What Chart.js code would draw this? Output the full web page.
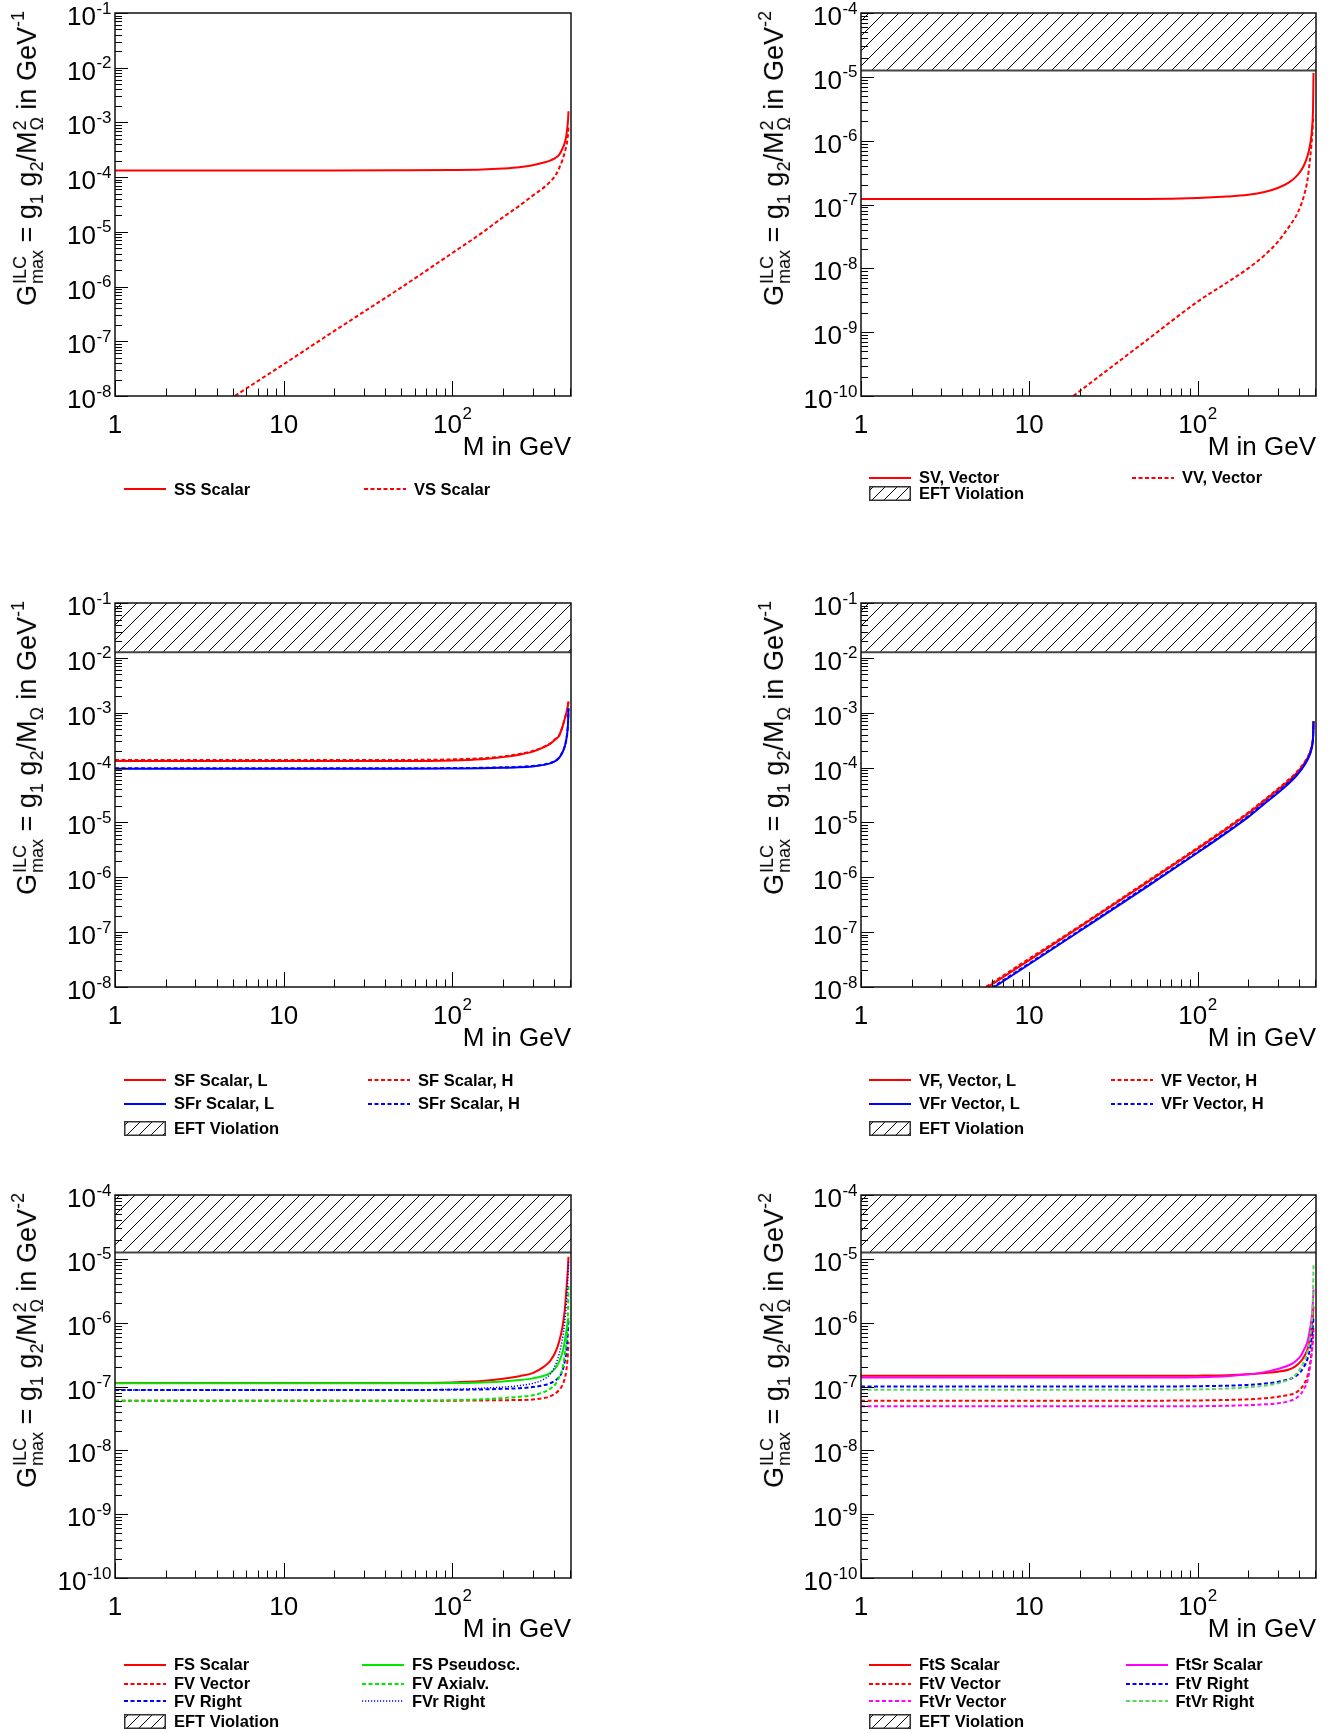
<!DOCTYPE html>
<html>
<head>
<meta charset="utf-8">
<script src="https://cdn.jsdelivr.net/npm/chart.js@4.4.0/dist/chart.umd.min.js"></script>
<style>
  body { margin: 0; background: #fff; width: 1344px; height: 1733px; position: relative; overflow: hidden;
         font-family: "Liberation Sans", Arial, sans-serif; color: #000; }
  canvas.panel { position: absolute; }
  .yt { position: absolute; height: 40px; line-height: 40px; font-size: 27px; white-space: nowrap;
        transform-origin: 100% 50%; transform: rotate(-90deg); }
  .yt sub { font-size: 18px; vertical-align: -7px; line-height: 0; }
  .yt sup { font-size: 18px; vertical-align: 12px; line-height: 0; }
  .st { display: inline-block; vertical-align: middle; font-size: 18px; line-height: 17px; margin-left: 1px; }
  .st span { display: block; }
  .leg { position: absolute; height: 20px; display: flex; align-items: center; white-space: nowrap;
         font-weight: bold; font-size: 16.5px; }
  .leg svg { margin-right: 8px; flex: none; }
</style>
</head>
<body>
<script>
// mass points (GeV) shared by all curves
const massGeV = [1, 2, 5, 10, 20, 50, 100, 150, 200, 250, 300, 350, 380, 410, 430, 450, 465, 475, 482, 486, 489];

// axis labels
const xTickValues = [1, 10, 100];
const xTickLabels = ['1', '10', '10^2'];
const yExpTall = [-8, -7, -6, -5, -4, -3, -2, -1];
const yExpShort = [-10, -9, -8, -7, -6, -5, -4];

// EFT violation limits
const eftLimitGeV1 = 1.26e-2;
const eftLimitGeV2 = 1.26e-5;

// scalar DM
const ssScalar = [1.32e-4, 1.32e-4, 1.32e-4, 1.32e-4, 1.32e-4, 1.33e-4, 1.35e-4, 1.38e-4, 1.44e-4, 1.52e-4, 1.65e-4, 1.85e-4, 2.0e-4, 2.25e-4, 2.55e-4, 3.3e-4, 4.3e-4, 5.8e-4, 8.5e-4, 1.1e-3, 1.6e-3];
const vsScalar = [3.8e-10, 1.5e-9, 9.5e-9, 3.8e-8, 1.55e-7, 9.7e-7, 4.1e-6, 9.6e-6, 1.85e-5, 3.0e-5, 4.6e-5, 6.5e-5, 8.2e-5, 1.08e-4, 1.45e-4, 2.05e-4, 2.85e-4, 3.75e-4, 4.9e-4, 6.3e-4, 8.5e-4];

// vector DM
const svVector = [1.22e-7, 1.22e-7, 1.22e-7, 1.22e-7, 1.22e-7, 1.22e-7, 1.26e-7, 1.33e-7, 1.42e-7, 1.57e-7, 1.81e-7, 2.22e-7, 2.64e-7, 3.34e-7, 4.16e-7, 5.7e-7, 8.2e-7, 1.2e-6, 1.9e-6, 3.2e-6, 1.15e-5];
const vvVector = [3.0e-13, 1.2e-12, 7.5e-12, 3.0e-11, 1.2e-10, 7.5e-10, 3.0e-9, 6.0e-9, 1.0e-8, 1.6e-8, 2.6e-8, 4.5e-8, 6.2e-8, 9.5e-8, 1.4e-7, 2.4e-7, 4.8e-7, 8.5e-7, 1.4e-6, 2.1e-6, 2.4e-6];

// scalar mediator, fermion DM
const sfScalarL = [1.32e-4, 1.32e-4, 1.32e-4, 1.32e-4, 1.32e-4, 1.32e-4, 1.35e-4, 1.42e-4, 1.55e-4, 1.72e-4, 1.95e-4, 2.35e-4, 2.7e-4, 3.3e-4, 3.8e-4, 5.5e-4, 7.8e-4, 1.0e-3, 1.2e-3, 1.4e-3, 1.6e-3];
const sfScalarH = [1.38e-4, 1.38e-4, 1.38e-4, 1.38e-4, 1.38e-4, 1.38e-4, 1.41e-4, 1.48e-4, 1.6e-4, 1.77e-4, 2.0e-4, 2.4e-4, 2.75e-4, 3.35e-4, 3.85e-4, 5.5e-4, 7.8e-4, 1.0e-3, 1.2e-3, 1.4e-3, 1.6e-3];
const sfrScalarL = [9.5e-5, 9.5e-5, 9.5e-5, 9.5e-5, 9.5e-5, 9.5e-5, 9.6e-5, 9.7e-5, 9.9e-5, 1.01e-4, 1.05e-4, 1.12e-4, 1.19e-4, 1.32e-4, 1.5e-4, 1.88e-4, 2.45e-4, 3.3e-4, 4.6e-4, 6.6e-4, 1.2e-3];
const sfrScalarH = [9.7e-5, 9.7e-5, 9.7e-5, 9.7e-5, 9.7e-5, 9.7e-5, 9.8e-5, 9.9e-5, 1.01e-4, 1.03e-4, 1.07e-4, 1.14e-4, 1.21e-4, 1.34e-4, 1.52e-4, 1.9e-4, 2.47e-4, 3.3e-4, 4.6e-4, 6.6e-4, 1.2e-3];

// vector mediator, fermion DM
const vfVectorL = [3.1e-10, 1.25e-9, 7.8e-9, 3.1e-8, 1.25e-7, 8.0e-7, 3.3e-6, 7.7e-6, 1.45e-5, 2.5e-5, 3.9e-5, 5.8e-5, 7.4e-5, 9.7e-5, 1.18e-4, 1.48e-4, 1.84e-4, 2.25e-4, 2.8e-4, 3.6e-4, 7.0e-4];
const vfVectorH = [3.3e-10, 1.3e-9, 8.2e-9, 3.3e-8, 1.3e-7, 8.4e-7, 3.45e-6, 8.1e-6, 1.52e-5, 2.6e-5, 4.1e-5, 6.1e-5, 7.7e-5, 1.01e-4, 1.23e-4, 1.54e-4, 1.91e-4, 2.33e-4, 2.9e-4, 3.7e-4, 7.0e-4];
const vfrVectorL = [2.6e-10, 1.05e-9, 6.5e-9, 2.6e-8, 1.05e-7, 6.7e-7, 2.8e-6, 6.6e-6, 1.25e-5, 2.2e-5, 3.45e-5, 5.2e-5, 6.65e-5, 8.8e-5, 1.08e-4, 1.37e-4, 1.72e-4, 2.12e-4, 2.68e-4, 3.5e-4, 6.9e-4];
const vfrVectorH = [2.7e-10, 1.09e-9, 6.8e-9, 2.7e-8, 1.09e-7, 7.0e-7, 2.9e-6, 6.85e-6, 1.3e-5, 2.28e-5, 3.58e-5, 5.4e-5, 6.9e-5, 9.1e-5, 1.12e-4, 1.41e-4, 1.77e-4, 2.18e-4, 2.74e-4, 3.55e-4, 6.9e-4];

// fermion mediator (s-channel)
const fsScalar = [1.13e-7, 1.13e-7, 1.13e-7, 1.13e-7, 1.13e-7, 1.13e-7, 1.16e-7, 1.22e-7, 1.32e-7, 1.45e-7, 1.62e-7, 2.05e-7, 2.5e-7, 3.5e-7, 5.0e-7, 8.5e-7, 1.6e-6, 3.3e-6, 5.5e-6, 7.8e-6, 1.08e-5];
const fsPseudo = [1.12e-7, 1.12e-7, 1.12e-7, 1.12e-7, 1.12e-7, 1.12e-7, 1.13e-7, 1.16e-7, 1.2e-7, 1.26e-7, 1.34e-7, 1.47e-7, 1.62e-7, 1.95e-7, 2.45e-7, 3.4e-7, 5.2e-7, 7.4e-7, 9.5e-7, 1.1e-6, 1.2e-6];
const fvVector = [6.0e-8, 6.0e-8, 6.0e-8, 6.0e-8, 6.0e-8, 6.0e-8, 6.0e-8, 6.05e-8, 6.1e-8, 6.15e-8, 6.25e-8, 6.6e-8, 7.0e-8, 7.8e-8, 8.8e-8, 1.05e-7, 1.35e-7, 1.8e-7, 2.6e-7, 3.6e-7, 5.0e-7];
const fvAxial = [6.0e-8, 6.0e-8, 6.0e-8, 6.0e-8, 6.0e-8, 6.0e-8, 6.1e-8, 6.3e-8, 6.6e-8, 6.9e-8, 7.3e-8, 8.2e-8, 9.2e-8, 1.1e-7, 1.4e-7, 1.9e-7, 3.2e-7, 5.2e-7, 9.0e-7, 1.6e-6, 4.0e-6];
const fvRight = [8.8e-8, 8.8e-8, 8.8e-8, 8.8e-8, 8.8e-8, 8.8e-8, 8.9e-8, 9.0e-8, 9.2e-8, 9.4e-8, 9.8e-8, 1.05e-7, 1.12e-7, 1.25e-7, 1.4e-7, 1.75e-7, 2.5e-7, 3.6e-7, 5.5e-7, 8.0e-7, 1.1e-6];
const fvrRight = [8.8e-8, 8.8e-8, 8.8e-8, 8.8e-8, 8.8e-8, 8.8e-8, 9.0e-8, 9.4e-8, 9.8e-8, 1.03e-7, 1.12e-7, 1.3e-7, 1.55e-7, 2.2e-7, 3.2e-7, 5.5e-7, 1.05e-6, 2.0e-6, 3.8e-6, 5.8e-6, 9.0e-6];

// fermion mediator (t-channel)
const ftsScalar = [1.47e-7, 1.47e-7, 1.47e-7, 1.47e-7, 1.47e-7, 1.47e-7, 1.48e-7, 1.5e-7, 1.55e-7, 1.62e-7, 1.7e-7, 1.85e-7, 2.05e-7, 2.45e-7, 2.95e-7, 3.8e-7, 5.4e-7, 7.6e-7, 1.05e-6, 1.4e-6, 1.8e-6];
const ftsrScalar = [1.38e-7, 1.38e-7, 1.38e-7, 1.38e-7, 1.38e-7, 1.38e-7, 1.4e-7, 1.45e-7, 1.55e-7, 1.68e-7, 1.88e-7, 2.15e-7, 2.45e-7, 3.0e-7, 3.8e-7, 5.0e-7, 7.6e-7, 1.1e-6, 1.6e-6, 2.3e-6, 3.3e-6];
const ftvRight = [1.0e-7, 1.0e-7, 1.0e-7, 1.0e-7, 1.0e-7, 1.0e-7, 1.01e-7, 1.03e-7, 1.06e-7, 1.11e-7, 1.18e-7, 1.3e-7, 1.42e-7, 1.7e-7, 2.05e-7, 2.7e-7, 3.8e-7, 5.4e-7, 7.5e-7, 9.8e-7, 1.24e-6];
const ftvrRight = [8.9e-8, 8.9e-8, 8.9e-8, 8.9e-8, 8.9e-8, 8.9e-8, 9.0e-8, 9.3e-8, 9.7e-8, 1.03e-7, 1.12e-7, 1.3e-7, 1.5e-7, 1.95e-7, 2.5e-7, 3.5e-7, 5.6e-7, 8.5e-7, 1.5e-6, 3.0e-6, 8.5e-6];
const ftvVector = [6.0e-8, 6.0e-8, 6.0e-8, 6.0e-8, 6.0e-8, 6.0e-8, 6.05e-8, 6.15e-8, 6.3e-8, 6.55e-8, 6.9e-8, 7.4e-8, 7.9e-8, 9.2e-8, 1.1e-7, 1.45e-7, 2.2e-7, 3.3e-7, 4.8e-7, 6.5e-7, 8.7e-7];
const ftvrVector = [4.9e-8, 4.9e-8, 4.9e-8, 4.9e-8, 4.9e-8, 4.9e-8, 4.92e-8, 5.0e-8, 5.1e-8, 5.25e-8, 5.45e-8, 5.9e-8, 6.4e-8, 7.6e-8, 9.2e-8, 1.22e-7, 1.9e-7, 2.9e-7, 4.2e-7, 5.7e-7, 7.6e-7];

// ---- styling ----
const RED = '#ff0000', BLUE = '#0000ff', GREEN = '#00e800', MAG = '#ff00ff', LGREEN = '#5cd65c';
const DASH = [4, 2.5], DOT = [1.2, 1.8];

const colLeft = [115, 861], colRight = [571, 1316];
const rowTop = [13, 603, 1195], rowBottom = [396, 987, 1578];
const canvasTop = [0, 560, 1150], canvasH = 520;
const legendRows = [[489], [477.5, 493.5], [1080, 1103.7, 1128], [1664.5, 1683.5, 1701, 1721]];

function hatch(ctx) {
  const s = 15, c = document.createElement('canvas');
  c.width = s; c.height = s;
  const g = c.getContext('2d');
  g.strokeStyle = '#000'; g.lineWidth = 1;
  g.beginPath();
  g.moveTo(0, s); g.lineTo(s, 0);
  g.moveTo(-2, 2); g.lineTo(2, -2);
  g.moveTo(s - 2, s + 2); g.lineTo(s + 2, s - 2);
  g.stroke();
  return ctx.createPattern(c, 'repeat');
}

const panels = [
  { col: 0, row: 0, yExp: yExpTall, band: null, sq: true, unit: '-1', legRows: legendRows[0],
    series: [
      { label: 'SS Scalar', values: ssScalar, color: RED, lx: 124, lr: 0 },
      { label: 'VS Scalar', values: vsScalar, color: RED, dash: DASH, lx: 364, lr: 0 }
    ] },
  { col: 1, row: 0, yExp: yExpShort, band: eftLimitGeV2, sq: true, unit: '-2', legRows: legendRows[1], eft: [869, 1],
    series: [
      { label: 'SV, Vector', values: svVector, color: RED, lx: 869, lr: 0 },
      { label: 'VV, Vector', values: vvVector, color: RED, dash: DASH, lx: 1132, lr: 0 }
    ] },
  { col: 0, row: 1, yExp: yExpTall, band: eftLimitGeV1, sq: false, unit: '-1', legRows: legendRows[2], eft: [124, 2],
    series: [
      { label: 'SF Scalar, L', values: sfScalarL, color: RED, lx: 124, lr: 0 },
      { label: 'SF Scalar, H', values: sfScalarH, color: RED, dash: DASH, lx: 368, lr: 0 },
      { label: 'SFr Scalar, L', values: sfrScalarL, color: BLUE, lx: 124, lr: 1 },
      { label: 'SFr Scalar, H', values: sfrScalarH, color: BLUE, dash: DASH, lx: 368, lr: 1 }
    ] },
  { col: 1, row: 1, yExp: yExpTall, band: eftLimitGeV1, sq: false, unit: '-1', legRows: legendRows[2], eft: [869, 2],
    series: [
      { label: 'VF, Vector, L', values: vfVectorL, color: RED, lx: 869, lr: 0 },
      { label: 'VF Vector, H', values: vfVectorH, color: RED, dash: DASH, lx: 1111, lr: 0 },
      { label: 'VFr Vector, L', values: vfrVectorL, color: BLUE, lx: 869, lr: 1 },
      { label: 'VFr Vector, H', values: vfrVectorH, color: BLUE, dash: DASH, lx: 1111, lr: 1 }
    ] },
  { col: 0, row: 2, yExp: yExpShort, band: eftLimitGeV2, sq: true, unit: '-2', legRows: legendRows[3], eft: [124, 3],
    series: [
      { label: 'FS Scalar', values: fsScalar, color: RED, lx: 124, lr: 0 },
      { label: 'FV Vector', values: fvVector, color: RED, dash: DASH, lx: 124, lr: 1 },
      { label: 'FV Right', values: fvRight, color: BLUE, dash: DASH, lx: 124, lr: 2 },
      { label: 'FS Pseudosc.', values: fsPseudo, color: GREEN, lx: 362, lr: 0 },
      { label: 'FV Axialv.', values: fvAxial, color: GREEN, dash: DASH, lx: 362, lr: 1 },
      { label: 'FVr Right', values: fvrRight, color: BLUE, dash: DOT, width: 1.5, lx: 362, lr: 2 }
    ] },
  { col: 1, row: 2, yExp: yExpShort, band: eftLimitGeV2, sq: true, unit: '-2', legRows: legendRows[3], eft: [869, 3],
    series: [
      { label: 'FtS Scalar', values: ftsScalar, color: RED, lx: 869, lr: 0 },
      { label: 'FtV Vector', values: ftvVector, color: RED, dash: DASH, lx: 869, lr: 1 },
      { label: 'FtVr Vector', values: ftvrVector, color: MAG, dash: DASH, lx: 869, lr: 2 },
      { label: 'FtSr Scalar', values: ftsrScalar, color: MAG, lx: 1125.5, lr: 0 },
      { label: 'FtV Right', values: ftvRight, color: BLUE, dash: DASH, lx: 1125.5, lr: 1 },
      { label: 'FtVr Right', values: ftvrRight, color: LGREEN, dash: DASH, lx: 1125.5, lr: 2 }
    ] }
];

// ROOT-like frame, inward ticks and 10^n labels, drawn with the chart's own scales
const rootAxes = {
  id: 'rootAxes',
  afterDraw(chart, args, opts) {
    const ctx = chart.ctx, a = chart.chartArea, xs = chart.scales.x, ys = chart.scales.y;
    ctx.save();
    ctx.strokeStyle = '#000';
    ctx.lineWidth = 1;
    ctx.beginPath();
    for (let d = 0; d <= 2; d++) {
      for (let k = 1; k <= 9; k++) {
        const v = k * Math.pow(10, d);
        if (v < xs.min || v > xs.max * 1.001) continue;
        const px = Math.round(xs.getPixelForValue(v)) + 0.5;
        ctx.moveTo(px, a.bottom);
        ctx.lineTo(px, a.bottom - (k === 1 ? 15 : 7.5));
      }
    }
    const ex = opts.yExp;
    for (let d = ex[0]; d <= ex[ex.length - 1]; d++) {
      for (let k = 1; k <= 9; k++) {
        const v = k * Math.pow(10, d);
        if (v > ys.max * 1.001) continue;
        const py = Math.round(ys.getPixelForValue(v)) + 0.5;
        ctx.moveTo(a.left, py);
        ctx.lineTo(a.left + (k === 1 ? 13 : 7), py);
      }
    }
    ctx.stroke();
    ctx.lineWidth = 1.5;
    ctx.strokeStyle = '#111';
    ctx.strokeRect(a.left, a.top, a.right - a.left, a.bottom - a.top);

    ctx.fillStyle = '#000';
    ctx.textBaseline = 'alphabetic';
    ctx.textAlign = 'left';
    const big = '26px "Liberation Sans", Arial', small = '17px "Liberation Sans", Arial';
    // x labels
    xTickValues.forEach((v, i) => {
      const parts = xTickLabels[i].split('^');
      ctx.font = big;
      const wb = ctx.measureText(parts[0]).width;
      ctx.font = small;
      const ws = parts[1] ? ctx.measureText(parts[1]).width : 0;
      const x0 = xs.getPixelForValue(v) - (wb + ws) / 2;
      ctx.font = big;
      ctx.fillText(parts[0], x0, a.bottom + 37);
      if (parts[1]) { ctx.font = small; ctx.fillText(parts[1], x0 + wb + 0.5, a.bottom + 23); }
    });
    // y labels
    ex.forEach(e => {
      const py = ys.getPixelForValue(Math.pow(10, e));
      const sup = String(e);
      ctx.font = small;
      const ws = ctx.measureText(sup).width;
      ctx.font = big;
      const wb = ctx.measureText('10').width;
      const x0 = a.left - 4 - ws - wb;
      ctx.fillText('10', x0, py + 12);
      ctx.font = small;
      ctx.fillText(sup, x0 + wb + 0.5, py + 0.5);
    });
    ctx.font = '26px "Liberation Sans", Arial';
    ctx.textAlign = 'right';
    ctx.fillText('M in GeV', a.right, a.bottom + 59);
    ctx.restore();
  }
};

function lineSet(s) {
  return {
    label: s.label,
    data: massGeV.map((m, i) => ({ x: m, y: s.values[i] })).filter(p => p.y != null),
    borderColor: s.color,
    borderWidth: s.width || 2,
    borderDash: s.dash || [],
    pointRadius: 0,
    fill: false,
    cubicInterpolationMode: 'monotone'
  };
}

function sampleSvg(s) {
  const dash = s.dash ? ' stroke-dasharray="' + s.dash.join(' ') + '"' : '';
  return '<svg width="42" height="16"><line x1="0" y1="8" x2="42" y2="8" stroke="' + s.color +
    '" stroke-width="' + (s.width || 2) + '"' + dash + '/></svg>';
}
function hatchSvg() {
  let l = '';
  for (let x = -10; x < 50; x += 12) l += '<line x1="' + x + '" y1="15" x2="' + (x + 15) + '" y2="0" stroke="#000" stroke-width="1"/>';
  return '<svg width="42" height="15">' + l + '<rect x="0.75" y="0.75" width="40.5" height="13.5" fill="none" stroke="#333" stroke-width="1.5"/></svg>';
}
function addLegend(x, y, inner, text) {
  const d = document.createElement('div');
  d.className = 'leg';
  d.style.left = x + 'px';
  d.style.top = (y - 10) + 'px';
  d.innerHTML = inner + '<span>' + text + '</span>';
  document.body.appendChild(d);
}
function yTitle(p) {
  const m = p.sq ? 'M<span class="st"><span>2</span><span>Ω</span></span>' : 'M<sub>Ω</sub>';
  const d = document.createElement('div');
  d.className = 'yt';
  const cx = p.col === 0 ? 27 : 774;
  d.style.right = (1344 - cx) + 'px';
  d.style.top = (rowTop[p.row] - 2 - 20) + 'px';
  d.innerHTML = 'G<span class="st"><span>ILC</span><span>max</span></span> = g<sub>1</sub> g<sub>2</sub>/' + m +
    ' in GeV<sup>' + p.unit + '</sup>';
  document.body.appendChild(d);
}

panels.forEach(p => {
  const cv = document.createElement('canvas');
  cv.className = 'panel';
  const left = p.col * 672, top = canvasTop[p.row];
  cv.width = 672; cv.height = canvasH;
  cv.style.left = left + 'px'; cv.style.top = top + 'px';
  document.body.appendChild(cv);
  const ctx = cv.getContext('2d');

  const sets = p.series.map(lineSet);
  if (p.band) {
    sets.unshift({
      label: 'EFT Violation',
      data: [{ x: 1, y: p.band }, { x: 506, y: p.band }],
      borderColor: '#444', borderWidth: 2, pointRadius: 0,
      backgroundColor: hatch(ctx), fill: 'end'
    });
  }
  // first listed is drawn underneath
  sets.reverse();

  new Chart(ctx, {
    type: 'line',
    data: { datasets: sets },
    options: {
      responsive: false, animation: false, devicePixelRatio: 1,
      layout: { padding: {
        left: colLeft[p.col] - left, right: left + 672 - colRight[p.col],
        top: rowTop[p.row] - top, bottom: top + canvasH - rowBottom[p.row] } },
      plugins: { legend: { display: false }, tooltip: { enabled: false }, rootAxes: { yExp: p.yExp } },
      scales: {
        x: { type: 'logarithmic', min: 1, max: 506, display: false },
        y: { type: 'logarithmic', min: Math.pow(10, p.yExp[0]), max: Math.pow(10, p.yExp[p.yExp.length - 1]), display: false }
      }
    },
    plugins: [rootAxes]
  });

  yTitle(p);
  p.series.forEach(s => addLegend(s.lx, p.legRows[s.lr], sampleSvg(s), s.label));
  if (p.eft) addLegend(p.eft[0], p.legRows[p.eft[1]], hatchSvg(), 'EFT Violation');
});
</script>
</body>
</html>
